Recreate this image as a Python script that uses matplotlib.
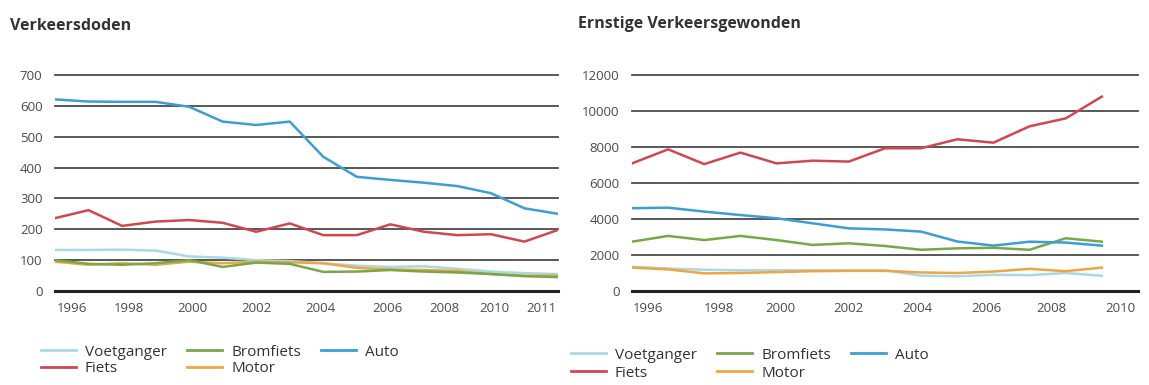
"""Verkeersdoden en ernstige verkeersgewonden per vervoerwijze, 1996-2011."""
import matplotlib

matplotlib.use("Agg")
import matplotlib.pyplot as plt
from matplotlib.lines import Line2D

plt.rcParams["font.family"] = ["Open Sans", "DejaVu Sans"]

# --- data: verkeersdoden (links) ---
YEARS_DOD = list(range(1996, 2012))
DOD_VOETGANGER = [133, 133, 134, 131, 112, 108, 100, 97, 90, 82, 78, 80, 72, 63, 58, 55]
DOD_FIETS = [236, 262, 211, 225, 230, 221, 192, 219, 181, 181, 216, 192, 181, 184, 160, 198]
DOD_BROMFIETS = [100, 88, 85, 90, 100, 78, 92, 88, 62, 63, 68, 63, 60, 55, 48, 45]
DOD_MOTOR = [95, 85, 90, 85, 95, 90, 95, 93, 90, 75, 70, 68, 65, 55, 50, 50]
DOD_AUTO = [621, 614, 613, 613, 597, 549, 538, 549, 435, 370, 360, 351, 340, 317, 268, 250]

# --- data: ernstige verkeersgewonden (rechts) ---
YEARS_GEW = list(range(1996, 2010))
GEW_VOETGANGER = [1350, 1250, 1180, 1150, 1150, 1150, 1150, 1150, 850, 820, 900, 880, 1000, 850]
GEW_FIETS = [7090, 7870, 7050, 7690, 7090, 7240, 7190, 7930, 7930, 8430, 8240, 9150, 9590, 10800]
GEW_BROMFIETS = [2740, 3060, 2830, 3060, 2830, 2560, 2650, 2500, 2290, 2370, 2400, 2290, 2930, 2740]
GEW_MOTOR = [1300, 1200, 980, 1000, 1050, 1100, 1120, 1120, 1030, 1000, 1080, 1230, 1100, 1300]
GEW_AUTO = [4600, 4630, 4410, 4220, 4040, 3760, 3480, 3420, 3300, 2750, 2520, 2740, 2690, 2520]

# tick labels as printed (and where they sit along the year axis)
DOD_YTICKS = [0, 100, 200, 300, 400, 500, 600, 700]
GEW_YTICKS = [0, 2000, 4000, 6000, 8000, 10000, 12000]
DOD_XLABELS = ["1996", "1998", "2000", "2002", "2004", "2006", "2008", "2010", "2011"]
DOD_XPOS = [1996.5, 1998.2, 2000.1, 2002.0, 2003.9, 2005.9, 2007.6, 2009.1, 2010.5]
GEW_XLABELS = ["1996", "1998", "2000", "2002", "2004", "2006", "2008", "2010"]
GEW_XPOS = [1996.45, 1998.4, 2000.1, 2002.0, 2003.9, 2005.8, 2007.6, 2009.5]

SERIES = ["Voetganger", "Fiets", "Bromfiets", "Motor", "Auto"]
COLORS = {
    "Voetganger": "#a9d8e6",
    "Fiets": "#d0474f",
    "Bromfiets": "#76a84a",
    "Motor": "#efa541",
    "Auto": "#3b9fd2",
}
GRID = "#4a4a4a"
TXT = "#4a4a4a"


def panel(ax, years, values, yticks, xpos, xlabels, xmax):
    for t in yticks:
        if t == 0:
            ax.axhline(t, color="#222", lw=2.2, clip_on=False, zorder=1)
        else:
            ax.axhline(t, color=GRID, lw=1.3, clip_on=False, zorder=1)
    for name in ["Voetganger", "Motor", "Bromfiets", "Fiets", "Auto"]:
        ax.plot(years, values[name], color=COLORS[name], lw=1.8, zorder=3,
                solid_joinstyle="round")
    ax.set_xlim(years[0], xmax)
    ax.set_ylim(yticks[0], yticks[-1])
    ax.set_yticks(yticks)
    ax.set_yticklabels([str(t) for t in yticks], fontsize=9.5, color=TXT)
    ax.set_xticks(xpos)
    ax.set_xticklabels(xlabels, fontsize=9.5, color=TXT)
    ax.tick_params(length=0, axis="y", pad=9)
    ax.tick_params(length=0, axis="x", pad=8)
    for s in ax.spines.values():
        s.set_visible(False)


fig = plt.figure(figsize=(11.49, 3.85), dpi=100)
ax1 = fig.add_axes([55 / 1149, 94 / 385, 503 / 1149, 216 / 385])
ax2 = fig.add_axes([632 / 1149, 94 / 385, 506 / 1149, 216 / 385])

dod = dict(zip(SERIES, [DOD_VOETGANGER, DOD_FIETS, DOD_BROMFIETS, DOD_MOTOR, DOD_AUTO]))
gew = dict(zip(SERIES, [GEW_VOETGANGER, GEW_FIETS, GEW_BROMFIETS, GEW_MOTOR, GEW_AUTO]))
panel(ax1, YEARS_DOD, dod, DOD_YTICKS, DOD_XPOS, DOD_XLABELS, 2011)
panel(ax2, YEARS_GEW, gew, GEW_YTICKS, GEW_XPOS, GEW_XLABELS, 2010)

fig.text(10 / 1149, 1 - 26 / 385, "Verkeersdoden", fontsize=11.5, fontweight="bold",
         color="#333", va="center", ha="left")
fig.text(578 / 1149, 1 - 24 / 385, "Ernstige Verkeersgewonden", fontsize=11.5,
         fontweight="bold", color="#333", va="center", ha="left")

handles = [Line2D([0], [0], color=COLORS[n], lw=2) for n in SERIES]
for x0, y0, gap in [(30 / 1149, 1 - 334 / 385, 0.1), (560 / 1149, 1 - 337 / 385, 0.2)]:
    leg = fig.legend(handles, SERIES, loc="upper left", bbox_to_anchor=(x0, y0),
                     ncol=3, frameon=False, fontsize=11, handlelength=2.3,
                     handletextpad=0.6, columnspacing=1.3, labelspacing=gap,
                     borderpad=0.2)
    for t in leg.get_texts():
        t.set_color("#333")

fig.savefig("out.png", dpi=100)
